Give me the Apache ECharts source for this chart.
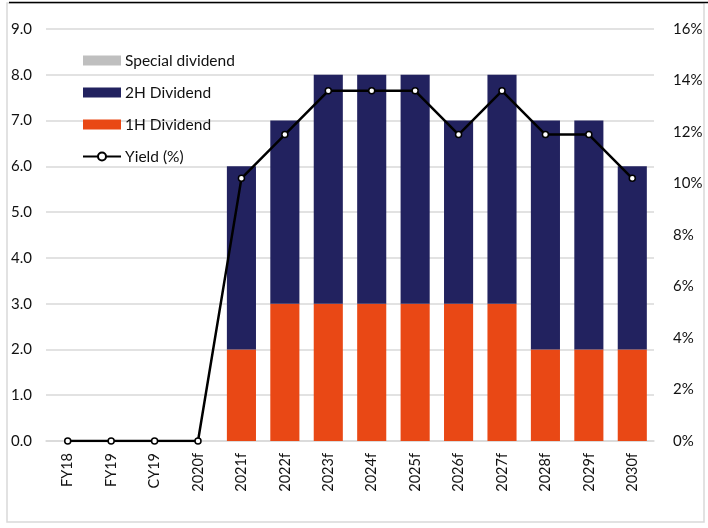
<!DOCTYPE html>
<html>
<head>
<meta charset="utf-8">
<script src="https://cdn.jsdelivr.net/npm/echarts@6/dist/echarts.min.js"></script>
<style>
  html, body { margin: 0; padding: 0; background: #fff; }
  #chart { width: 708px; height: 528px; }
</style>
</head>
<body>
<div id="chart"></div>
<script>
// Dividend per share by period, with forecast yield on the right axis
const categories = ['FY18', 'FY19', 'CY19', '2020f', '2021f', '2022f', '2023f', '2024f', '2025f', '2026f', '2027f', '2028f', '2029f', '2030f'];
const firstHalfDividend  = [0, 0, 0, 0, 2, 3, 3, 3, 3, 3, 3, 2, 2, 2];
const secondHalfDividend = [0, 0, 0, 0, 4, 4, 5, 5, 5, 4, 5, 5, 5, 4];
const specialDividend    = [0, 0, 0, 0, 0, 0, 0, 0, 0, 0, 0, 0, 0, 0];
const yieldPct           = [0, 0, 0, 0, 10.2, 11.9, 13.6, 13.6, 13.6, 11.9, 13.6, 11.9, 11.9, 10.2];
const leftTicks  = { min: 0, max: 9, interval: 1 };
const rightTicks = { min: 0, max: 16, interval: 2 };

const FONT = 'Lato';
const TEXT = '#111';
const GRID = '#d9d9d9';

const chart = echarts.init(document.getElementById('chart'), null, { renderer: 'canvas' });

chart.setOption({
  animation: false,
  backgroundColor: '#fff',
  textStyle: { fontFamily: FONT },
  graphic: [
    {
      type: 'rect',
      shape: { x: 7, y: 3, width: 697, height: 519 },
      style: { fill: 'none', stroke: '#d9d9d9', lineWidth: 1.5 },
      silent: true
    },
    {
      type: 'line',
      shape: { x1: 9, y1: 2.5, x2: 708, y2: 2.5 },
      style: { stroke: '#000', lineWidth: 1.5 },
      silent: true
    }
  ],
  grid: { left: 46, right: 54, top: 29, bottom: 87, containLabel: false },
  legend: {
    orient: 'vertical',
    left: 77,
    top: 46,
    itemWidth: 38,
    itemHeight: 10,
    itemGap: 13,
    data: [
      { name: 'Special dividend', icon: 'rect' },
      { name: '2H Dividend', icon: 'rect' },
      { name: '1H Dividend', icon: 'rect' },
      { name: 'Yield (%)' }
    ],
    textStyle: { fontFamily: FONT, fontSize: 15.5, color: TEXT, padding: [0, 0, 0, -1], lineHeight: 19 }
  },
  xAxis: {
    type: 'category',
    data: categories,
    axisTick: { show: false },
    axisLine: { lineStyle: { color: GRID, width: 1.5 } },
    axisLabel: { rotate: 90, fontFamily: FONT, fontSize: 14.5, color: TEXT, margin: 12 }
  },
  yAxis: [
    {
      type: 'value',
      min: leftTicks.min, max: leftTicks.max, interval: leftTicks.interval,
      axisLine: { show: false },
      axisTick: { show: false },
      splitLine: { lineStyle: { color: GRID, width: 1.5 } },
      axisLabel: {
        fontFamily: FONT, fontSize: 15, color: TEXT, margin: 14,
        formatter: v => v.toFixed(1)
      }
    },
    {
      type: 'value',
      min: rightTicks.min, max: rightTicks.max, interval: rightTicks.interval,
      axisLine: { show: false },
      axisTick: { show: false },
      splitLine: { show: false },
      axisLabel: {
        fontFamily: FONT, fontSize: 15, color: TEXT, margin: 19,
        formatter: v => v + '%'
      }
    }
  ],
  series: [
    {
      name: '1H Dividend', type: 'bar', stack: 'dps',
      data: firstHalfDividend,
      barCategoryGap: '33%',
      itemStyle: { color: '#e94815' }
    },
    {
      name: '2H Dividend', type: 'bar', stack: 'dps',
      data: secondHalfDividend,
      itemStyle: { color: '#22225f' }
    },
    {
      name: 'Special dividend', type: 'bar', stack: 'dps',
      data: specialDividend,
      itemStyle: { color: '#bfbfbf' }
    },
    {
      name: 'Yield (%)', type: 'line', yAxisIndex: 1,
      data: yieldPct,
      symbol: 'circle', symbolSize: 6,
      lineStyle: { color: '#000', width: 2.5 },
      itemStyle: { color: '#fff', borderColor: '#000', borderWidth: 1.5 },
      z: 5
    }
  ]
});
</script>
</body>
</html>
